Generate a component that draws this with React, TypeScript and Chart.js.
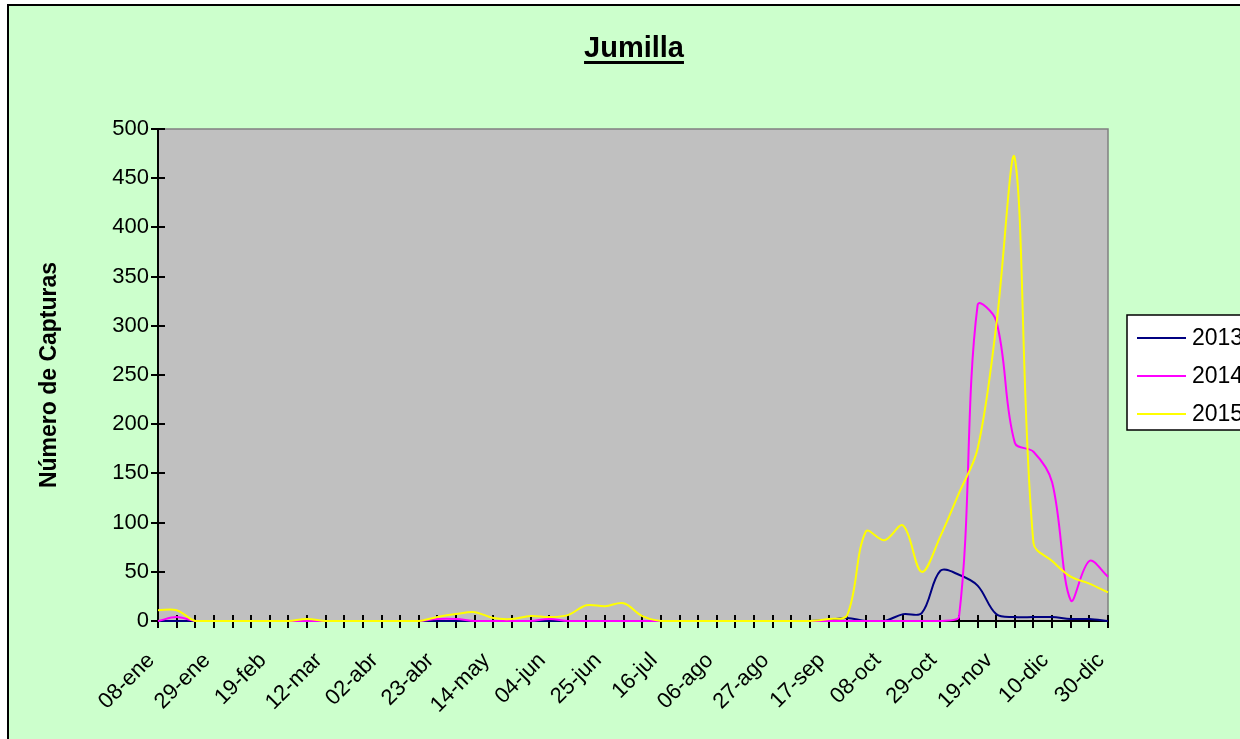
import React, { useEffect, useRef } from "react";
import { Chart, registerables } from "chart.js";

Chart.register(...registerables);

const categories = [
  "08-ene", "15-ene", "22-ene", "29-ene",
  "05-feb", "12-feb", "19-feb", "26-feb",
  "05-mar", "12-mar", "19-mar", "26-mar",
  "02-abr", "09-abr", "16-abr", "23-abr", "30-abr",
  "07-may", "14-may", "21-may", "28-may",
  "04-jun", "11-jun", "18-jun", "25-jun",
  "02-jul", "09-jul", "16-jul", "23-jul", "30-jul",
  "06-ago", "13-ago", "20-ago", "27-ago",
  "03-sep", "10-sep", "17-sep", "24-sep",
  "01-oct", "08-oct", "15-oct", "22-oct", "29-oct",
  "05-nov", "12-nov", "19-nov", "26-nov",
  "03-dic", "10-dic", "17-dic", "24-dic", "30-dic",
];

const series2013 = [
  0, 0, 0, 0, 0, 0, 0, 0, 0, 0,
  0, 0, 0, 0, 0, 0, 0, 0, 0, 0,
  0, 0, 0, 0, 0, 0, 0, 0, 0, 0,
  0, 0, 0, 0, 0, 0, 1, 3, 0, 0,
  7, 8, 51, 47, 36, 7, 4, 4, 4, 2,
  2, 0,
];

const series2014 = [
  0, 4, 0, 0, 0, 0, 0, 0, 0, 0,
  0, 0, 0, 0, 0, 2, 2, 0, 0, 0,
  0, 2, 0, 0, 0, 0, 0, 0, 0, 0,
  0, 0, 0, 0, 0, 0, 0, 0, 0, 0,
  0, 0, 0, 4, 321, 305, 181, 172, 141, 21,
  61, 45,
];

const series2015 = [
  11, 11, 0, 0, 0, 0, 0, 0, 2, 0,
  0, 0, 0, 0, 0, 4, 7, 9, 3, 2,
  5, 4, 6, 16, 15, 18, 5, 0, 0, 0,
  0, 0, 0, 0, 0, 0, 2, 6, 91, 82,
  97, 50, 86, 130, 175, 300, 470, 79, 61, 45,
  38, 29,
];

const seriesNames = ["2013", "2014", "2015"];
const seriesColors = ["#000080", "#FF00FF", "#FFFF00"];
const titleText = "Jumilla";
const yAxisTitle = "Número de Capturas";
const yMin = 0;
const yMax = 500;
const yStep = 50;
const labelEvery = 3;

const W = 1320;
const H = 800;
const FONT = "'Liberation Sans', Arial, sans-serif";

export default function App() {
  const ref = useRef<HTMLCanvasElement>(null);

  useEffect(() => {
    const canvas = ref.current;
    if (!canvas) return;

    const deco = {
      id: "deco",
      beforeDraw(chart: any) {
        const { ctx, chartArea } = chart;
        ctx.save();
        ctx.fillStyle = "#FFFFFF";
        ctx.fillRect(0, 0, W, H);
        ctx.fillStyle = "#CCFFCC";
        ctx.fillRect(8, 5, W, H);
        ctx.strokeStyle = "#000000";
        ctx.lineWidth = 2;
        ctx.strokeRect(8, 5, W + 20, H + 20);
        // plot area
        ctx.fillStyle = "#C0C0C0";
        ctx.fillRect(chartArea.left, chartArea.top, chartArea.right - chartArea.left, chartArea.bottom - chartArea.top);
        ctx.strokeStyle = "#808080";
        ctx.lineWidth = 1.5;
        ctx.beginPath();
        ctx.moveTo(chartArea.left, chartArea.top);
        ctx.lineTo(chartArea.right, chartArea.top);
        ctx.lineTo(chartArea.right, chartArea.bottom);
        ctx.stroke();
        ctx.restore();
      },
      beforeDatasetsDraw(chart: any) {
        const { ctx, chartArea } = chart;
        const xs = chart.scales.x;
        const ys = chart.scales.y;
        ctx.save();
        ctx.strokeStyle = "#000000";
        ctx.lineWidth = 2;
        ctx.beginPath();
        ctx.moveTo(chartArea.left, chartArea.top);
        ctx.lineTo(chartArea.left, chartArea.bottom);
        ctx.lineTo(chartArea.right, chartArea.bottom);
        ctx.stroke();
        ctx.beginPath();
        for (let i = 0; i < categories.length; i++) {
          const x = Math.round(xs.getPixelForValue(i));
          ctx.moveTo(x, chartArea.bottom - 6);
          ctx.lineTo(x, chartArea.bottom + 7);
        }
        for (let v = yMin; v <= yMax; v += yStep) {
          const y = Math.round(ys.getPixelForValue(v));
          ctx.moveTo(chartArea.left - 7, y);
          ctx.lineTo(chartArea.left + 7, y);
        }
        ctx.stroke();
        ctx.restore();
      },
      afterDraw(chart: any) {
        const { ctx, chartArea } = chart;
        const xs = chart.scales.x;
        ctx.save();
        // x labels
        ctx.fillStyle = "#000000";
        ctx.font = `22px ${FONT}`;
        ctx.textAlign = "right";
        ctx.textBaseline = "middle";
        for (let i = 0; i < categories.length; i += labelEvery) {
          const x = xs.getPixelForValue(i);
          ctx.save();
          ctx.translate(x - 7, chartArea.bottom + 36);
          ctx.rotate(-Math.PI / 4);
          ctx.fillText(categories[i], 0, 0);
          ctx.restore();
        }
        // title
        ctx.font = `bold 29px ${FONT}`;
        ctx.textAlign = "center";
        ctx.textBaseline = "alphabetic";
        const cx = (chartArea.left + chartArea.right) / 2 + 1;
        ctx.fillText(titleText, cx, 57);
        const tw = ctx.measureText(titleText).width;
        ctx.fillRect(cx - tw / 2, 61, tw, 3);
        // legend
        const lx = 1127;
        const ly = 315;
        ctx.fillStyle = "#FFFFFF";
        ctx.fillRect(lx, ly, 220, 115);
        ctx.strokeStyle = "#000000";
        ctx.lineWidth = 1.5;
        ctx.strokeRect(lx, ly, 220, 115);
        ctx.font = `23px ${FONT}`;
        ctx.textAlign = "left";
        ctx.textBaseline = "middle";
        const rows = [338, 376, 414];
        for (let k = 0; k < seriesNames.length; k++) {
          ctx.strokeStyle = seriesColors[k];
          ctx.lineWidth = 2;
          ctx.beginPath();
          ctx.moveTo(1137, rows[k]);
          ctx.lineTo(1186, rows[k]);
          ctx.stroke();
          ctx.fillStyle = "#000000";
          ctx.fillText(seriesNames[k], 1192, rows[k] + 1);
        }
        ctx.restore();
      },
    };

    const allSeries = [series2013, series2014, series2015];
    const chart = new Chart(canvas, {
      type: "line",
      data: {
        labels: categories,
        datasets: allSeries.map((d, k) => ({
          label: seriesNames[k],
          data: d,
          borderColor: seriesColors[k],
          backgroundColor: seriesColors[k],
          borderWidth: 2,
          pointRadius: 0,
          tension: 0.35,
          fill: false,
          clip: false as any,
          order: 2 - k,
        })),
      },
      options: {
        responsive: false,
        animation: false,
        devicePixelRatio: 1,
        layout: { padding: { left: 0, top: 129, right: W - 1108, bottom: 0 } },
        plugins: {
          legend: { display: false },
          tooltip: { enabled: false },
          title: { display: false },
        },
        scales: {
          x: {
            type: "category",
            offset: false,
            grid: { display: false },
            border: { display: false },
            ticks: { display: false, autoSkip: false },
            afterFit: (s: any) => {
              s.height = H - 621;
            },
          },
          y: {
            min: yMin,
            max: yMax,
            ticks: {
              stepSize: yStep,
              color: "#000000",
              font: { family: FONT, size: 22 },
              padding: 1,
            },
            grid: { display: false, tickLength: 8 },
            border: { display: false },
            title: {
              display: true,
              text: yAxisTitle,
              color: "#000000",
              font: { family: FONT, size: 23, weight: "bold" },
              padding: { top: 36, bottom: 0 },
            },
            afterFit: (s: any) => {
              s.width = 158;
            },
          },
        },
      },
      plugins: [deco],
    });

    return () => chart.destroy();
  }, []);

  return (
    <div
      style={{
        position: "fixed",
        left: 0,
        top: 0,
        width: 1240,
        height: 739,
        overflow: "hidden",
        background: "#FFFFFF",
      }}
    >
      <canvas ref={ref} width={W} height={H} style={{ display: "block", width: W, height: H }} />
    </div>
  );
}
